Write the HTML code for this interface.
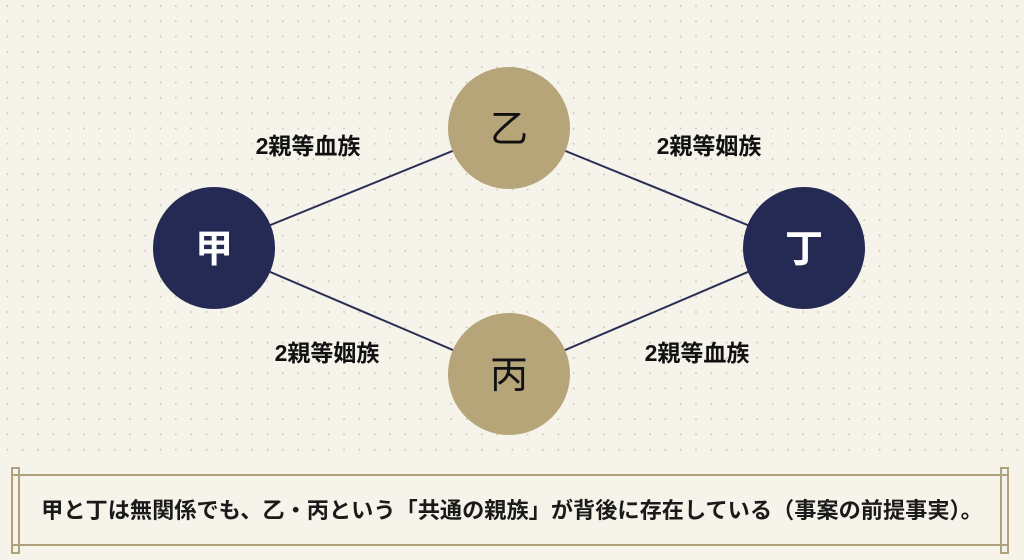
<!DOCTYPE html>
<html><head><meta charset="utf-8"><style>
html,body{margin:0;padding:0}
body{width:1024px;height:560px;overflow:hidden;background:#f6f3ea;font-family:"Liberation Sans","Noto Sans CJK JP",sans-serif;position:relative}
svg{position:absolute;left:0;top:0}
.cap{position:absolute;left:0;width:1024px;top:496px;text-align:center;font-size:22.2px;font-weight:bold;color:#1a1a1a;line-height:30px}
</style></head><body>
<svg width="1024" height="560" viewBox="0 0 1024 560">
<defs><pattern id="d" x="0" y="0" width="15.3" height="15.3" patternUnits="userSpaceOnUse"><circle cx="7.5" cy="6" r="0.9" fill="#c9c3b5"/></pattern></defs>
<rect x="0" y="0" width="1024" height="462" fill="url(#d)"/>
<g stroke="#2a2f55" stroke-width="2">
<line x1="214" y1="248" x2="509" y2="128"/>
<line x1="509" y1="128" x2="804" y2="248"/>
<line x1="214" y1="248" x2="509" y2="374"/>
<line x1="509" y1="374" x2="804" y2="248"/>
</g>
<circle cx="214" cy="248" r="61" fill="#252a55"/>
<circle cx="804" cy="248" r="61" fill="#252a55"/>
<circle cx="509" cy="128" r="61" fill="#b5a579"/>
<circle cx="509" cy="374" r="61" fill="#b5a579"/>
<g font-family="Liberation Sans, Noto Sans CJK JP, sans-serif" font-size="38" text-anchor="middle">
<text x="214" y="262" fill="#fff" font-weight="bold">甲</text>
<text x="804" y="262" fill="#fff" font-weight="bold">丁</text>
<text x="509" y="142" fill="#111">乙</text>
<text x="509" y="388" fill="#111">丙</text>
</g>
<g font-family="Liberation Sans, Noto Sans CJK JP, sans-serif" font-size="23" font-weight="bold" fill="#111" text-anchor="middle">
<text x="308" y="154">2親等血族</text>
<text x="709" y="154">2親等姻族</text>
<text x="327" y="361">2親等姻族</text>
<text x="697" y="361">2親等血族</text>
</g>
<g stroke="#b0a27a" stroke-width="2" fill="none">
<line x1="18" y1="475" x2="1001" y2="475"/>
<line x1="18" y1="545" x2="1001" y2="545"/>
<rect x="12" y="468" width="7" height="85"/>
<rect x="1001" y="468" width="7" height="85"/>
<line x1="12" y1="475" x2="19" y2="475"/><line x1="12" y1="545" x2="19" y2="545"/>
<line x1="1001" y1="475" x2="1008" y2="475"/><line x1="1001" y1="545" x2="1008" y2="545"/>
</g>
</svg>
<div class="cap">甲と丁は無関係でも、乙・丙という「共通の親族」が背後に存在している（事案の前提事実）。</div>
</body></html>
